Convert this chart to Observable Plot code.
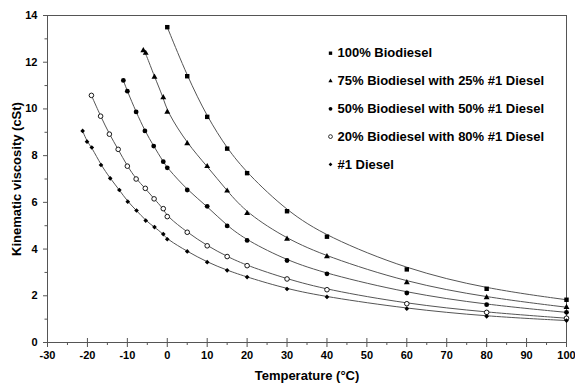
<!DOCTYPE html>
<html><head><meta charset="utf-8">
<script src="https://cdn.jsdelivr.net/npm/d3@7"></script>
<script src="https://cdn.jsdelivr.net/npm/@observablehq/plot@0.6"></script>
<style>html,body{margin:0;padding:0;background:#fff;}</style>
</head><body><div id="chart"></div>
<script>
// ---- data ----
const seriesNames = [
  "100% Biodiesel",
  "75% Biodiesel with 25% #1 Diesel",
  "50% Biodiesel with 50% #1 Diesel",
  "20% Biodiesel with 80% #1 Diesel",
  "#1 Diesel"
];
const temp100 = [0, 5, 10, 15, 20, 30, 40, 60, 80, 100];
const visc100 = [13.5, 11.4, 9.66, 8.3, 7.25, 5.62, 4.53, 3.13, 2.3, 1.83];
const temp75 = [-6, -5.4, -3.2, -1, 0, 5, 10, 15, 20, 30, 40, 60, 80, 100];
const visc75 = [12.5, 12.39, 11.37, 10.49, 9.87, 8.52, 7.54, 6.49, 5.53, 4.43, 3.68, 2.57, 1.93, 1.51];
const temp50 = [-11, -10, -7.8, -5.6, -3.4, -1, 0, 5, 10, 15, 20, 30, 40, 60, 80, 100];
const visc50 = [11.22, 10.76, 9.87, 9.06, 8.41, 7.74, 7.48, 6.53, 5.83, 4.99, 4.37, 3.51, 2.94, 2.12, 1.62, 1.29];
const temp20 = [-19, -16.7, -14.5, -12.3, -10, -7.8, -5.5, -3.3, -1, 0, 5, 10, 15, 20, 30, 40, 60, 80, 100];
const visc20 = [10.58, 9.69, 8.92, 8.27, 7.55, 7.0, 6.6, 6.15, 5.73, 5.39, 4.72, 4.14, 3.68, 3.29, 2.72, 2.26, 1.66, 1.29, 1.04];
const temp0 = [-21.2, -20.1, -18.9, -16.6, -14.3, -12, -9.9, -7.7, -5.4, -3.2, -1, 0, 5, 10, 15, 20, 30, 40, 60, 80, 100];
const visc0 = [9.06, 8.6, 8.35, 7.6, 7.03, 6.53, 6.03, 5.65, 5.22, 4.94, 4.64, 4.42, 3.9, 3.44, 3.09, 2.8, 2.29, 1.95, 1.45, 1.12, 0.94];

const xTicks = [-30, -20, -10, 0, 10, 20, 30, 40, 50, 60, 70, 80, 90, 100];
const xMinor = [-25, -15, -5, 5, 15, 25, 35, 45, 55, 65, 75, 85, 95];
const yTicks = [0, 2, 4, 6, 8, 10, 12, 14];
const yMinor = [1, 3, 5, 7, 9, 11, 13];

// ---- build table ----
const temps = [temp100, temp75, temp50, temp20, temp0];
const viscs = [visc100, visc75, visc50, visc20, visc0];
const rows = [];
seriesNames.forEach((s, k) => temps[k].forEach((t, i) => rows.push({series: s, t, v: viscs[k][i]})));

const symbols = ["square", "triangle", "circle", "circle", "diamond2"];
const fills = ["black", "black", "black", "white", "black"];
const radii = [2.5, 2.2, 2.4, 2.3, 2.1];
const legendR = [1.9, 1.6, 1.9, 1.9, 1.7];

const font = "'Liberation Sans', Arial, Helvetica, sans-serif";

const dotMarks = seriesNames.map((s, k) => Plot.dot(rows.filter(d => d.series === s), {
  x: "t", y: "v", symbol: symbols[k], r: radii[k], fill: fills[k],
  stroke: "black", strokeWidth: k === 3 ? 0.9 : 0
}));

const legendMarks = seriesNames.flatMap((s, k) => [
  Plot.dot([s], {frameAnchor: "top-left", dx: 283, dy: 37.7 + k * 27.8,
    symbol: symbols[k], r: legendR[k], fill: fills[k], stroke: "black", strokeWidth: k === 3 ? 0.8 : 0}),
  Plot.text([s], {frameAnchor: "top-left", dx: 290, dy: 37.7 + k * 27.8, text: d => d,
    textAnchor: "start", lineAnchor: "middle", fontSize: 13, fontWeight: "bold", fill: "black"})
]);

const chart = Plot.plot({
  width: 575, height: 385,
  marginLeft: 47, marginRight: 9, marginTop: 15, marginBottom: 43,
  x: {domain: [-30, 100]},
  y: {domain: [0, 14]},
  style: {fontFamily: font, fontWeight: "bold", fontSize: "11px", color: "black", background: "white"},
  marks: [
    Plot.line(rows, {x: "t", y: "v", z: "series", curve: "basis", stroke: "#555", strokeWidth: 1}),
    Plot.frame({stroke: "#555"}),
    Plot.ruleX(xTicks, {x: d => d, y1: 0, y2: 0, insetTop: -4, insetBottom: -5, stroke: "#555"}),
    Plot.ruleX(xMinor, {x: d => d, y1: 0, y2: 0, insetTop: 0, insetBottom: -3, stroke: "#555"}),
    Plot.axisX({ticks: xTicks, tickSize: 0, tickPadding: 9, tickFormat: d => String(d), label: null, fontSize: 11, fontWeight: "bold"}),
    Plot.axisY({ticks: yTicks, tickSize: 4, tickPadding: 6, tickFormat: d => String(d), label: null, stroke: "#555", fontSize: 11, fontWeight: "bold"}),
    Plot.axisY({ticks: yMinor, tickSize: 2.5, fill: "none", label: null, stroke: "#555"}),
    ...dotMarks,
    ...legendMarks,
    Plot.text(["Temperature (°C)"], {frameAnchor: "bottom", dy: 33, text: d => d, lineAnchor: "middle",
      fontSize: 13, fontWeight: "bold", fill: "black"}),
    Plot.text(["Kinematic viscosity (cSt)"], {frameAnchor: "left", dx: -31, rotate: -90, text: d => d,
      lineAnchor: "middle", textAnchor: "middle", fontSize: 13, fontWeight: "bold", fill: "black"})
  ]
});
document.getElementById("chart").appendChild(chart);
</script>
</body></html>
